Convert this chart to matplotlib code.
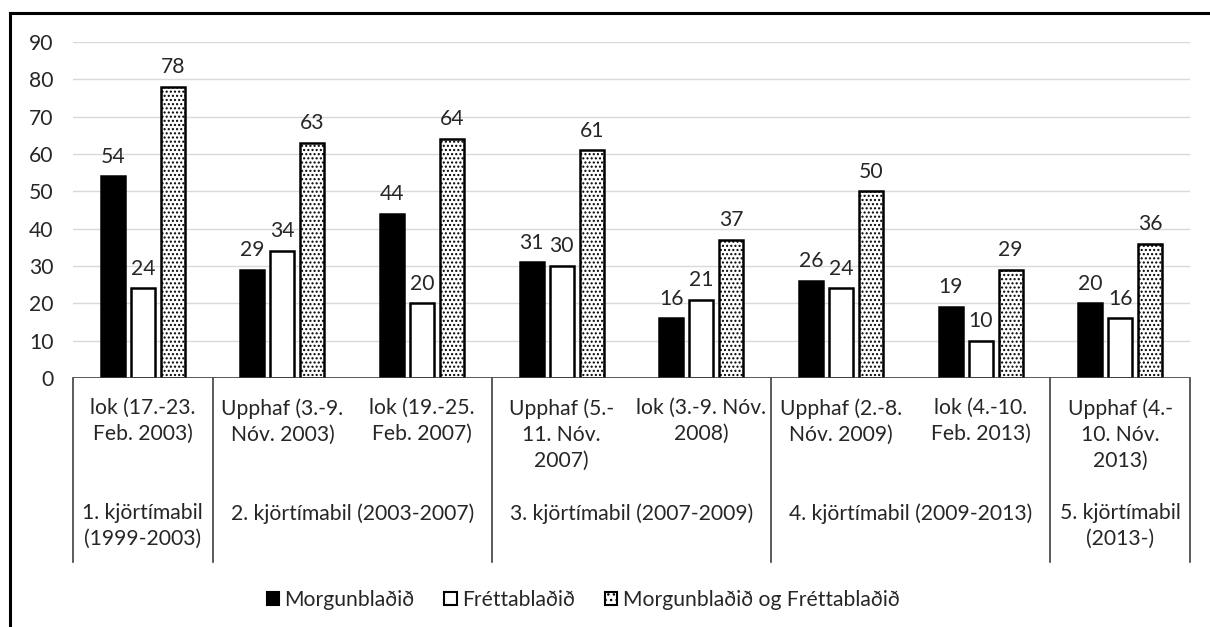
import numpy as np
import matplotlib.pyplot as plt
import matplotlib.transforms as mtransforms
from matplotlib.patches import Patch
from matplotlib.lines import Line2D

plt.rcParams['font.family'] = ['Lato', 'DejaVu Sans']
plt.rcParams['hatch.linewidth'] = 1.0

categories = ['lok (17.-23.\nFeb. 2003)', 'Upphaf (3.-9.\nNóv. 2003)', 'lok (19.-25.\nFeb. 2007)',
              'Upphaf (5.-\n11. Nóv.\n2007)', 'lok (3.-9. Nóv.\n2008)', 'Upphaf (2.-8.\nNóv. 2009)',
              'lok (4.-10.\nFeb. 2013)', 'Upphaf (4.-\n10. Nóv.\n2013)']
groups = ['1. kjörtímabil\n(1999-2003)', '2. kjörtímabil (2003-2007)', '3. kjörtímabil (2007-2009)',
          '4. kjörtímabil (2009-2013)', '5. kjörtímabil\n(2013-)']
group_span = [(0, 0), (1, 2), (3, 4), (5, 6), (7, 7)]

mbl = [54, 29, 44, 31, 16, 26, 19, 20]
frbl = [24, 34, 20, 30, 21, 24, 10, 16]
both = [78, 63, 64, 61, 37, 50, 29, 36]
series_names = ['Morgunblaðið', 'Fréttablaðið', 'Morgunblaðið og Fréttablaðið']

W, H = 1210, 627
fig = plt.figure(figsize=(W / 100, H / 100), dpi=100)
ax = fig.add_axes([73 / W, 1 - 378 / H, (1190 - 73) / W, (378 - 42) / H])

x = np.arange(len(categories))
bw = 0.172
off = 0.215
txt = '#262626'
fs = 15.2

b1 = ax.bar(x - off, mbl, bw, color='black', edgecolor='black', linewidth=1.8, zorder=3)
b2 = ax.bar(x, frbl, bw, color='white', edgecolor='black', linewidth=1.8, zorder=3)
b3 = ax.bar(x + off, both, bw, color='white', edgecolor='black', linewidth=1.8, hatch='....', zorder=3)

for bars, vals in [(b1, mbl), (b2, frbl), (b3, both)]:
    for r, v in zip(bars, vals):
        ax.annotate(str(v), (r.get_x() + r.get_width() / 2, v), xytext=(0, 7),
                    textcoords='offset points', ha='center', va='bottom', fontsize=fs, color=txt)

ax.set_xlim(-0.5, 7.5)
ax.set_ylim(0, 90)
ax.set_yticks(range(0, 91, 10))
ax.tick_params(axis='y', length=0, pad=14, labelsize=fs, labelcolor=txt)
ax.set_xticks([])
ax.grid(axis='y', color='#d9d9d9', linewidth=1, zorder=0)
for s in ax.spines.values():
    s.set_visible(False)
ax.axhline(0, color='#404040', linewidth=1.2, zorder=4)

# category and group labels below the axis
tr = mtransforms.blended_transform_factory(ax.transData, fig.transFigure)
for i, lab in enumerate(categories):
    ax.text(i, 1 - 398 / H, lab, transform=tr, ha='center', va='top', fontsize=fs,
            color=txt, linespacing=1.38)
for lab, (a, b) in zip(groups, group_span):
    ax.text((a + b) / 2, 1 - 503 / H, lab, transform=tr, ha='center', va='top', fontsize=fs,
            color=txt, linespacing=1.38)
for xb in [-0.5, 0.5, 2.5, 4.5, 6.5, 7.5]:
    ax.add_line(Line2D([xb, xb], [1 - 378 / H, 1 - 562 / H], transform=tr, color='#404040',
                       linewidth=1.2, clip_on=False))

handles = [Patch(facecolor='black', edgecolor='black', linewidth=1.5),
           Patch(facecolor='white', edgecolor='black', linewidth=1.5),
           Patch(facecolor='white', edgecolor='black', linewidth=1.5, hatch='...')]
fig.legend(handles, series_names, loc='center', bbox_to_anchor=(583 / W, 1 - 600 / H), ncol=3,
           frameon=False, fontsize=fs, handlelength=0.6, handleheight=0.6, handletextpad=0.25,
           columnspacing=1.4, labelcolor=txt)

# outer frame (only top and left visible)
fig.add_artist(Line2D([10 / W, 1], [1 - 13 / H, 1 - 13 / H], transform=fig.transFigure,
                      color='black', linewidth=2.2))
fig.add_artist(Line2D([10 / W, 10 / W], [1 - 13 / H, 0], transform=fig.transFigure,
                      color='black', linewidth=2.2))

fig.savefig('out.png', dpi=100)
